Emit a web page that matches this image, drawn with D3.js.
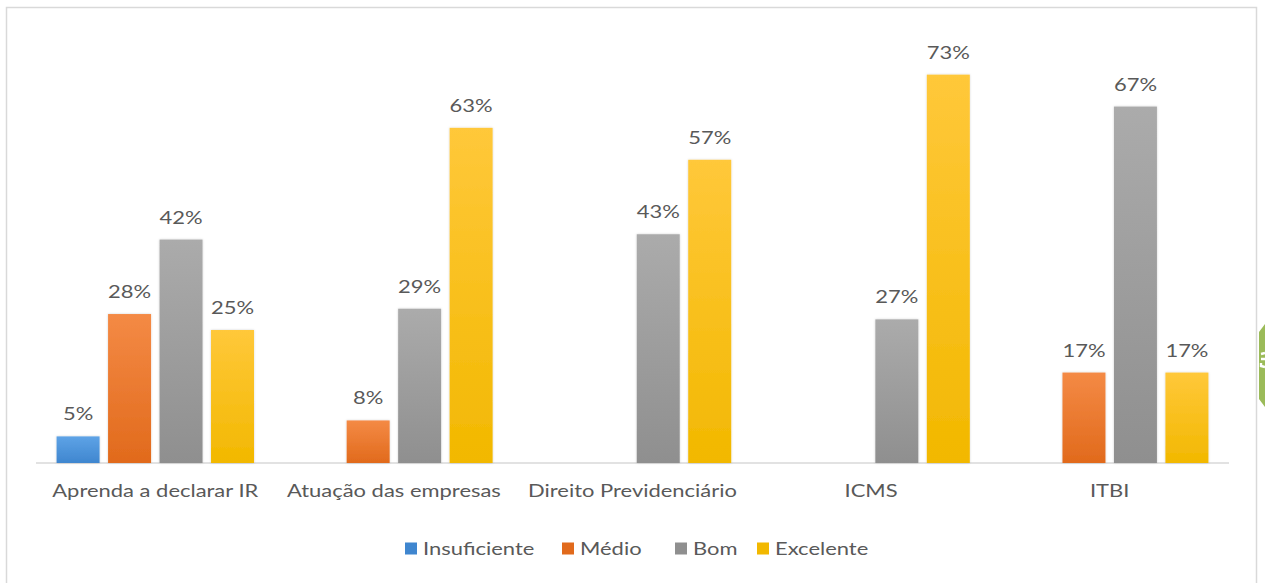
<!DOCTYPE html>
<html>
<head>
<meta charset="utf-8">
<script src="https://cdn.jsdelivr.net/npm/d3@7"></script>
<style>
  html, body { margin: 0; padding: 0; background: #ffffff; }
  svg { display: block; }
  text { font-family: Lato, "Open Sans", "Liberation Sans", sans-serif; fill: #595959; }
</style>
</head>
<body>
<svg id="chart" width="1265" height="583"></svg>
<script>
// Course ratings by topic (share of answers, %)
const categories = ["Aprenda a declarar IR", "Atuação das empresas", "Direito Previdenciário", "ICMS", "ITBI"];
const series = ["Insuficiente", "Médio", "Bom", "Excelente"];
const insuficiente = [5, null, null, null, null];
const medio        = [28, 8, null, null, 17];
const bom          = [42, 29, 43, 27, 67];
const excelente    = [25, 63, 57, 73, 17];
const seriesColors = [["#5ea3e6", "#3f86cf"], ["#f48a45", "#e16a1c"], ["#ababab", "#8f8f8f"], ["#ffc83a", "#f2b800"]];

const values = [insuficiente, medio, bom, excelente];

const svg = d3.select("#chart");
const STRETCH = 1.22; // wide lettering

// chart frame
svg.append("rect")
  .attr("x", 6.5).attr("y", 7.5).attr("width", 1250).attr("height", 600)
  .attr("fill", "#ffffff").attr("stroke", "#d9d9d9").attr("stroke-width", 1.5);

// gradients
const defs = svg.append("defs");
seriesColors.forEach((c, i) => {
  const g = defs.append("linearGradient").attr("id", "grad" + i)
    .attr("x1", 0).attr("y1", 0).attr("x2", 0).attr("y2", 1);
  g.append("stop").attr("offset", "0%").attr("stop-color", c[0]);
  g.append("stop").attr("offset", "100%").attr("stop-color", c[1]);
});
const f = defs.append("filter").attr("id", "soft").attr("x", "-20%").attr("y", "-10%").attr("width", "140%").attr("height", "120%");
f.append("feDropShadow").attr("dx", 0).attr("dy", 0).attr("stdDeviation", 1.2).attr("flood-color", "#000").attr("flood-opacity", 0.18);

const x0 = d3.scaleBand().domain(categories).range([36, 1229]).padding(0);
const x1 = d3.scaleBand().domain(series).range([0, x0.bandwidth()])
  .paddingInner(0.165).paddingOuter(0.4);
const y = d3.scaleLinear().domain([0, 80]).range([463, 37.4]);

// baseline axis
svg.append("line")
  .attr("x1", x0.range()[0]).attr("x2", x0.range()[1])
  .attr("y1", y(0)).attr("y2", y(0))
  .attr("stroke", "#d9d9d9").attr("stroke-width", 1.5);

// bars
const barData = [];
categories.forEach((cat, ci) => {
  series.forEach((s, si) => {
    const v = values[si][ci];
    if (v != null) barData.push({ cat, s, si, v });
  });
});

svg.append("g").selectAll("rect").data(barData).join("rect")
  .attr("x", d => x0(d.cat) + x1(d.s))
  .attr("y", d => y(d.v))
  .attr("width", x1.bandwidth())
  .attr("height", d => y(0) - y(d.v))
  .attr("fill", d => `url(#grad${d.si})`)
  .attr("filter", "url(#soft)");

// value labels
svg.append("g").selectAll("text").data(barData).join("text")
  .attr("transform", d => `translate(${x0(d.cat) + x1(d.s) + x1.bandwidth() / 2},${y(d.v) - 16}) scale(${STRETCH},1)`)
  .attr("text-anchor", "middle")
  .attr("font-size", 18)
  .text(d => d.v + "%");

// category axis labels
const xAxis = d3.axisBottom(x0).tickSize(0).tickPadding(0);
const ax = svg.append("g").attr("transform", `translate(0,${y(0)})`).call(xAxis);
ax.select(".domain").remove();
ax.selectAll("text")
  .attr("x", 0)
  .attr("y", 0)
  .attr("dy", 0)
  .attr("transform", `translate(0,34) scale(${STRETCH},1)`)
  .attr("font-size", 18)
  .style("font-family", "Lato, 'Open Sans', sans-serif")
  .attr("fill", "#595959");

// legend
const legendX = [405, 562, 675, 757];
const lg = svg.append("g");
series.forEach((s, i) => {
  lg.append("rect")
    .attr("x", legendX[i]).attr("y", 542.5).attr("width", 12).attr("height", 12)
    .attr("fill", seriesColors[i][1]);
  lg.append("text")
    .attr("transform", `translate(${legendX[i] + 18},555) scale(${STRETCH},1)`)
    .attr("font-size", 18)
    .text(s);
});

// page edge badge
svg.append("path")
  .attr("d", "M1259,332 L1265,324 L1275,324 L1275,407 L1265,407 L1259,399 Z")
  .attr("fill", "#9bbb59");
svg.append("path")
  .attr("d", "M1265,353 L1261,354 M1261,359 L1265,359 M1261,363 L1261,366 L1265,367")
  .attr("fill", "none").attr("stroke", "#ffffff").attr("stroke-width", 2.4);
</script>
</body>
</html>
